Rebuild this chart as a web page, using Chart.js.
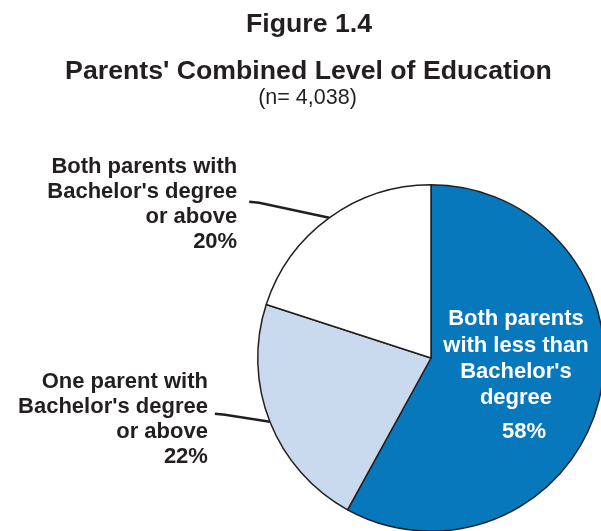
<!DOCTYPE html>
<html>
<head>
<meta charset="utf-8">
<script src="https://cdn.jsdelivr.net/npm/chart.js@4/dist/chart.umd.min.js"></script>
<style>
  html, body { margin: 0; padding: 0; background: #fff; overflow: hidden; }
  #wrap { position: absolute; left: 0; top: 0; width: 620px; height: 560px; }
</style>
</head>
<body>
<div id="wrap"><canvas id="pie"></canvas></div>
<script>
const categories = [
    "Both parents with less than Bachelor's degree",
    "One parent with Bachelor's degree or above",
    "Both parents with Bachelor's degree or above"
];
const shares = [58, 22, 20];
const sliceColors = ['#0778bc', '#c9daee', '#ffffff'];
const sliceText = [
    ['Both parents', 'with less than', "Bachelor's", 'degree'],
    ['One parent with', "Bachelor's degree", 'or above'],
    ['Both parents with', "Bachelor's degree", 'or above']
];

const INK = '#231f20';
const FONT = '"Liberation Sans", Arial, sans-serif';

// titles + slice labels with leader lines
const labelPlugin = {
    id: 'sliceLabels',
    afterDraw(chart) {
        const ctx = chart.ctx;
        ctx.save();
        ctx.fillStyle = INK;
        ctx.textAlign = 'center';
        ctx.textBaseline = 'alphabetic';
        ctx.font = `bold 26.7px ${FONT}`;
        ctx.fillText('Figure 1.4', 309, 32);
        ctx.fillText("Parents' Combined Level of Education", 308.5, 79);
        ctx.font = `21.5px ${FONT}`;
        ctx.fillText('(n= 4,038)', 307.5, 104);

        const arcs = chart.getDatasetMeta(0).data;
        arcs.forEach((arc, i) => {
            const { x, y, startAngle, endAngle, outerRadius } = arc.getProps(['x', 'y', 'startAngle', 'endAngle', 'outerRadius'], true);
            const mid = (startAngle + endAngle) / 2;
            const lines = sliceText[i].concat([shares[i] + '%']);
            ctx.font = `bold 22px ${FONT}`;
            if (i === 0) {
                ctx.fillStyle = '#ffffff';
                ctx.textAlign = 'center';
                const base = [-33, -6, 20, 46];
                sliceText[i].forEach((t, k) => ctx.fillText(t, x + 85, y + base[k]));
                ctx.fillText(shares[i] + '%', x + 93, y + 80);
                return;
            }
            // leader line from slice edge out to the text
            const px = x + Math.cos(mid) * outerRadius;
            const py = y + Math.sin(mid) * outerRadius;
            const top = i === 2;
            const elbowX = top ? px - 70 : px - 45;
            const elbowY = top ? py - 15 : py - 7;
            const endX = top ? px - 80 : px - 55;
            const endY = top ? py - 16 : py - 8;
            ctx.strokeStyle = INK;
            ctx.lineWidth = 2.5;
            ctx.beginPath();
            ctx.moveTo(px, py);
            ctx.lineTo(elbowX, elbowY);
            ctx.lineTo(endX, endY);
            ctx.stroke();

            ctx.fillStyle = INK;
            ctx.textAlign = 'right';
            const rightX = top ? px - 92 : px - 62;
            const firstBase = top ? py - 45 : py - 34;
            lines.forEach((t, k) => ctx.fillText(t, rightX, firstBase + k * 25));
        });
        ctx.restore();
    }
};

new Chart(document.getElementById('pie'), {
    type: 'pie',
    data: {
        labels: categories,
        datasets: [{
            data: shares,
            backgroundColor: sliceColors,
            borderColor: INK,
            borderWidth: 1.5
        }]
    },
    options: {
        responsive: true,
        maintainAspectRatio: false,
        animation: false,
        events: [],
        layout: { padding: { left: 257, top: 184, right: 15, bottom: 28 } },
        plugins: {
            legend: { display: false },
            tooltip: { enabled: false },
            title: { display: false }
        }
    },
    plugins: [labelPlugin]
});
</script>
</body>
</html>
